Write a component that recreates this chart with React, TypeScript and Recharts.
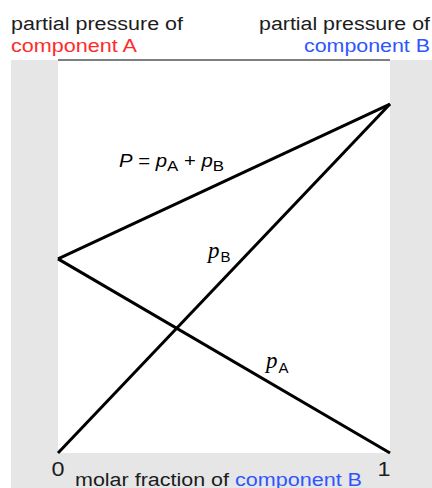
import React from "react";
import { ComposedChart, Line, XAxis, YAxis, ReferenceArea, ReferenceLine } from "recharts";

const xValues = [0, 1];
const pAValues = [49.4, 0];
const pBValues = [0, 88.8];
const totalValues = [49.4, 88.8];
const xTickLabels = ["0", "1"];
const yDomain = [0, 100];

const data = xValues.map((x, i) => ({ x, pA: pAValues[i], pB: pBValues[i], P: totalValues[i] }));

const SANS = "'Liberation Sans', Arial, Helvetica, sans-serif";
const SERIF = "'Liberation Serif', 'Times New Roman', serif";
const RED = "#ff2b2b";
const BLUE = "#2f55ff";
const DARK = "#1c1c1c";

const renderTick = (props: any) => {
  const { x, payload, index } = props;
  const label = xTickLabels[index] ?? String(payload.value);
  const shift = index === 0 ? 0 : -6;
  return (
    <text x={x + shift} y={476} textAnchor="middle" fontFamily={SANS} fontSize={21} fill={DARK} textLength={13} lengthAdjust="spacingAndGlyphs">
      {label}
    </text>
  );
};

export default function App() {
  return (
    <div style={{ position: "absolute", left: 0, top: 0, width: 432, height: 488, background: "#fff" }}>
      <div style={{ position: "absolute", left: 11, top: 60, width: 421, height: 428, background: "#e6e6e6" }} />
      <div style={{ position: "absolute", left: 0, top: 0 }}>
        <ComposedChart width={432} height={488} data={data} margin={{ top: 60, right: 42, left: 58, bottom: 5 }}>
          <XAxis
            dataKey="x"
            type="number"
            domain={[0, 1]}
            ticks={xValues}
            tick={renderTick}
            axisLine={false}
            tickLine={false}
            height={30}
          />
          <YAxis type="number" domain={yDomain} hide />
          <ReferenceArea x1={0} x2={1} y1={0} y2={100} fill="#ffffff" fillOpacity={1} stroke="none" ifOverflow="visible" />
          <ReferenceLine y={100} stroke="#555" strokeWidth={1.5} ifOverflow="visible" />
          <Line type="linear" dataKey="P" stroke="#000" strokeWidth={3} dot={false} isAnimationActive={false} />
          <Line type="linear" dataKey="pA" stroke="#000" strokeWidth={3} dot={false} isAnimationActive={false} />
          <Line type="linear" dataKey="pB" stroke="#000" strokeWidth={3} dot={false} isAnimationActive={false} />
        </ComposedChart>
      </div>
      <svg width={432} height={488} style={{ position: "absolute", left: 0, top: 0, pointerEvents: "none" }}>
        <g fontFamily={SANS} fontSize={18}>
          <text x={11} y={30} fill={DARK} textLength={172} lengthAdjust="spacingAndGlyphs">partial pressure of</text>
          <text x={11} y={52} fill={RED} textLength={126} lengthAdjust="spacingAndGlyphs">component A</text>
          <text x={430} y={30} textAnchor="end" fill={DARK} textLength={171} lengthAdjust="spacingAndGlyphs">partial pressure of</text>
          <text x={430} y={52} textAnchor="end" fill={BLUE} textLength={126} lengthAdjust="spacingAndGlyphs">component B</text>
          <text x={75} y={486} fill={DARK} textLength={154} lengthAdjust="spacingAndGlyphs">molar fraction of</text>
          <text x={235} y={486} fill={BLUE} textLength={127} lengthAdjust="spacingAndGlyphs">component B</text>
          <text x={119} y={167} fill="#000" textLength={105} lengthAdjust="spacingAndGlyphs">
            <tspan fontStyle="italic">P</tspan>
            <tspan> = </tspan>
            <tspan fontStyle="italic">p</tspan>
            <tspan fontSize={15} dy={4}>A</tspan>
            <tspan dy={-4}> + </tspan>
            <tspan fontStyle="italic">p</tspan>
            <tspan fontSize={15} dy={4}>B</tspan>
          </text>
          <text x={208} y={258} fill="#000">
            <tspan fontFamily={SERIF} fontStyle="italic" fontSize={23}>p</tspan>
            <tspan fontSize={15} dy={4} dx={1}>B</tspan>
          </text>
          <text x={266} y={368} fill="#000">
            <tspan fontFamily={SERIF} fontStyle="italic" fontSize={23}>p</tspan>
            <tspan fontSize={15} dy={5} dx={1}>A</tspan>
          </text>
        </g>
      </svg>
    </div>
  );
}
